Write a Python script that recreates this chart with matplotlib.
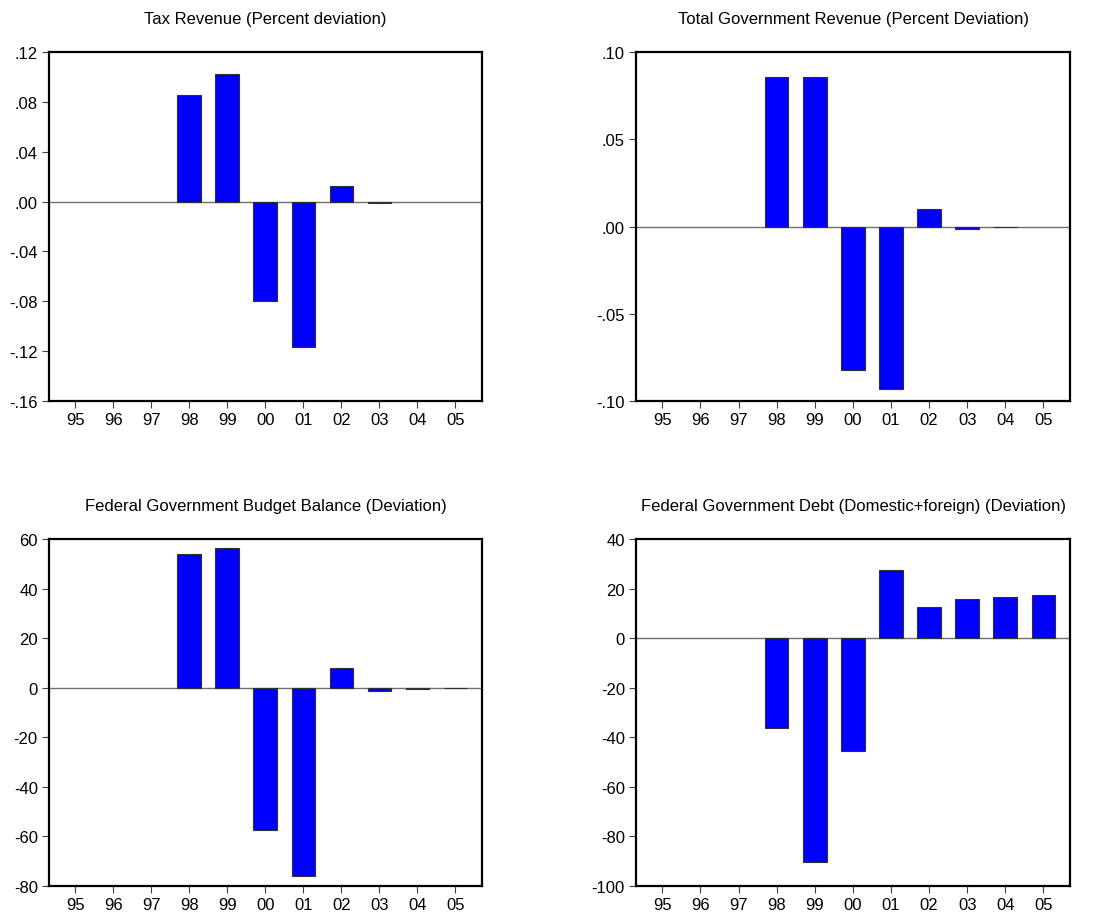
import numpy as np
import matplotlib
matplotlib.use("Agg")
import matplotlib.pyplot as plt

plt.rcParams['font.family'] = ['Liberation Sans', 'DejaVu Sans']

years = ["95", "96", "97", "98", "99", "00", "01", "02", "03", "04", "05"]

tax_revenue = [0, 0, 0, 0.0852, 0.1024, -0.0796, -0.1166, 0.0123, -0.0010, 0, 0]
total_revenue = [0, 0, 0, 0.0859, 0.0859, -0.0823, -0.0932, 0.0098, -0.0013, -0.0003, 0]
budget_balance = [0, 0, 0, 54.0, 56.3, -57.6, -75.8, 8.1, -1.5, -0.5, -0.2]
government_debt = [0, 0, 0, -36.3, -90.5, -45.5, 27.5, 12.65, 15.6, 16.7, 17.4]

titles = [
    "Tax Revenue (Percent deviation)",
    "Total Government Revenue (Percent Deviation)",
    "Federal Government Budget Balance (Deviation)",
    "Federal Government Debt (Domestic+foreign) (Deviation)",
]


def dec_label(v):
    # EViews style: no leading zero, ".04" / "-.08"
    s = f"{abs(v):.2f}".lstrip("0")
    return ("-" if v < -1e-9 else "") + s


panels = [
    (tax_revenue, np.arange(-0.16, 0.121, 0.04), dec_label),
    (total_revenue, np.arange(-0.10, 0.101, 0.05), dec_label),
    (budget_balance, np.arange(-80, 61, 20), lambda v: f"{v:.0f}"),
    (government_debt, np.arange(-100, 41, 20), lambda v: f"{v:.0f}"),
]

boxes = [
    [0.0438, 0.5630, 0.3873, 0.3794],
    [0.5689, 0.5630, 0.3882, 0.3794],
    [0.0438, 0.0359, 0.3873, 0.3772],
    [0.5689, 0.0359, 0.3882, 0.3772],
]

fig = plt.figure(figsize=(11.18, 9.2), dpi=100)
x = np.arange(len(years))

for (vals, yt, fmt), box, title in zip(panels, boxes, titles):
    ax = fig.add_axes(box)
    vals = np.array(vals, dtype=float)
    keep = vals != 0  # empty years get no bar at all
    ax.axhline(0, color="#707070", lw=1.0, zorder=1)
    ax.bar(x[keep], vals[keep], width=0.62, color="#0000ff",
           edgecolor="#303030", linewidth=0.8, zorder=2)
    ax.set_xlim(-0.69, 10.7)
    ax.set_ylim(yt[0], yt[-1])
    ax.set_xticks(x)
    ax.set_xticklabels(years)
    ax.set_yticks(yt)
    ax.set_yticklabels([fmt(v) for v in yt])
    ax.tick_params(axis="both", direction="out", length=5, width=0.8,
                   labelsize=12, color="#404040", labelcolor="black")
    ax.tick_params(axis="x", pad=3)
    ax.tick_params(axis="y", pad=3)
    ax.tick_params(top=False, right=False)
    for sp in ax.spines.values():
        sp.set_linewidth(1.6)
        sp.set_color("black")
    ax.set_title(title, fontsize=12, pad=21)

fig.savefig("out.png", dpi=100, facecolor="white")
